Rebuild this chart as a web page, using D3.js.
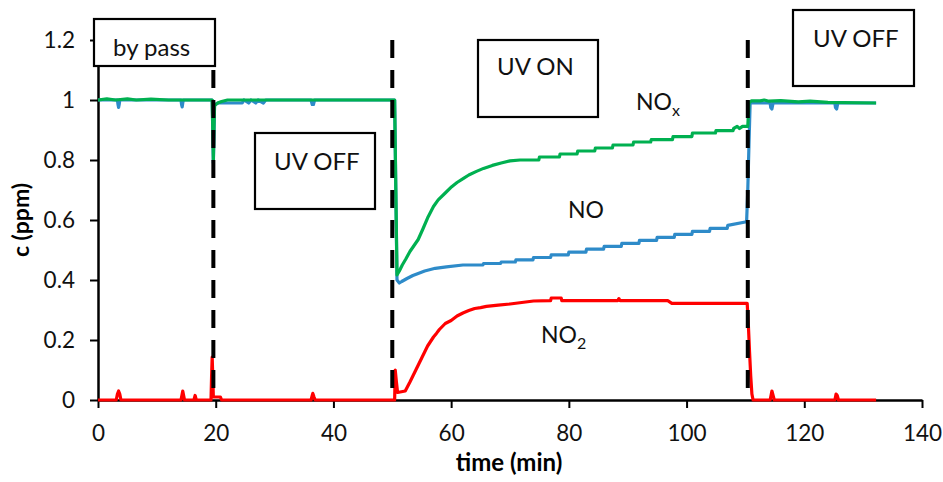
<!DOCTYPE html>
<html>
<head>
<meta charset="utf-8">
<script src="https://cdn.jsdelivr.net/npm/d3@7"></script>
<style>
  body { margin: 0; background: #fff; }
  svg { display: block; font-family: Lato, "Open Sans", sans-serif; }
</style>
</head>
<body>
<svg id="chart"></svg>
<script>
// values: [time (min), c (ppm)]
const xTicks = [0, 20, 40, 60, 80, 100, 120, 140];
const yTicks = [0, 0.2, 0.4, 0.6, 0.8, 1, 1.2];
const seriesNames = ['NO', 'NOx', 'NO2'];
const switchTimes = [19.6, 50, 110.4];
const phaseLabels = ['by pass', 'UV OFF', 'UV ON', 'UV OFF'];

const noSeries = [
  [0, 1.0], [3.3, 1.0], [3.4, 0.985], [3.5, 0.975], [3.6, 0.985], [3.7, 1.0],
  [14.1, 1.0], [14.2, 0.985], [14.3, 0.977], [14.4, 0.99], [14.5, 1.0],
  [19.4, 1.0], [19.5, 0.9], [19.6, 0.79], [19.7, 0.88], [19.8, 0.985], [20.5, 0.99],
  [24.5, 0.99], [24.8, 1.0], [25.6, 0.99], [26.0, 1.0], [26.8, 0.99], [27.2, 1.0],
  [28.1, 0.99], [28.5, 1.0], [36.2, 1.0], [36.4, 0.985], [36.6, 0.985], [36.8, 1.0],
  [50.4, 1.0], [50.6, 0.7], [50.8, 0.40], [51.2, 0.39], [51.6, 0.395], [52.5, 0.405],
  [53.5, 0.415], [54.4, 0.422], [55.5, 0.43], [57.3, 0.439], [59.2, 0.444], [62, 0.45],
  [65.4, 0.45], [65.5, 0.455], [68.4, 0.455], [68.5, 0.46], [70.9, 0.46], [71, 0.467],
  [73.9, 0.467], [74, 0.475], [76.9, 0.475], [77, 0.484], [79.9, 0.484], [80, 0.493],
  [82.9, 0.493], [83, 0.503], [85.9, 0.503], [86, 0.512], [88.9, 0.512], [89, 0.522],
  [91.9, 0.522], [92, 0.532], [94.9, 0.532], [95, 0.542], [97.9, 0.542], [98, 0.552],
  [100.9, 0.552], [101, 0.562], [103.9, 0.562], [104, 0.572], [106.9, 0.572], [107, 0.582],
  [110.2, 0.594], [110.4, 0.7], [110.6, 0.85], [110.8, 0.99], [112, 0.99],
  [114.2, 0.99], [114.3, 0.975], [114.5, 0.97], [114.7, 0.99], [125.2, 0.99],
  [125.3, 0.975], [125.5, 0.97], [125.7, 0.99], [132.2, 0.99]
];

const noxSeries = [
  [0, 1.0], [1.5, 1.004], [3, 1.0], [5, 1.004], [6.5, 1.0], [9, 1.003], [12, 1.0],
  [19.4, 1.0], [19.5, 0.9], [19.6, 0.8], [19.7, 0.9], [19.8, 0.98], [20.3, 0.99],
  [21, 0.995], [22, 1.0], [50.4, 1.0], [50.6, 0.7], [50.8, 0.417], [51.2, 0.43],
  [51.7, 0.45], [52.3, 0.47], [53, 0.495], [53.7, 0.515], [54.4, 0.535], [55.2, 0.57],
  [56.1, 0.611], [57, 0.645], [57.8, 0.667], [59, 0.69], [60.1, 0.711], [61, 0.725],
  [62.1, 0.739], [63, 0.75], [64.3, 0.762], [65.5, 0.772], [67, 0.782], [68.5, 0.79],
  [70, 0.797], [71.7, 0.80], [74.9, 0.80], [75, 0.81], [78.4, 0.81], [78.5, 0.82],
  [81.4, 0.82], [81.5, 0.83], [84.4, 0.83], [84.5, 0.84], [87.4, 0.84], [87.5, 0.85],
  [90.9, 0.85], [91, 0.86], [93.9, 0.86], [94, 0.868], [97.6, 0.868], [97.7, 0.878],
  [100.9, 0.878], [101, 0.89], [104.9, 0.89], [105, 0.898], [107.9, 0.898],
  [108, 0.905], [108.6, 0.912], [109, 0.905], [109.5, 0.912], [110.4, 0.912],
  [110.6, 0.99], [111, 0.997], [112.5, 0.997], [113.2, 1.0], [114, 0.996],
  [116, 0.998], [119, 0.994], [121, 0.996], [124, 0.992], [132.2, 0.99]
];

const no2Series = [
  [0, 0], [3.1, 0], [3.3, 0.02], [3.5, 0.03], [3.7, 0.02], [3.9, 0],
  [14.1, 0], [14.3, 0.02], [14.4, 0.03], [14.6, 0.01], [14.7, 0],
  [16.3, 0], [16.5, 0.015], [16.7, 0], [19.2, 0], [19.3, 0.08], [19.4, 0.143],
  [19.5, 0.08], [19.6, 0.01], [20.8, 0.01], [21, 0], [36.2, 0], [36.4, 0.015],
  [36.5, 0.022], [36.7, 0.01], [36.9, 0], [50.4, 0], [50.5, 0.1], [50.7, 0.06],
  [50.9, 0.025], [52.2, 0.03], [52.6, 0.045], [53, 0.06], [53.5, 0.08], [54, 0.1],
  [54.5, 0.12], [55, 0.14], [55.5, 0.16], [56, 0.18], [56.5, 0.195], [57, 0.21],
  [57.5, 0.222], [58, 0.235], [58.5, 0.245], [59, 0.255], [60, 0.265], [61, 0.28],
  [62, 0.29], [63, 0.298], [64, 0.305], [65, 0.308], [66, 0.312], [68, 0.316],
  [70, 0.32], [72, 0.325], [74, 0.33], [76.9, 0.331], [77, 0.34], [78.7, 0.34],
  [78.8, 0.331], [88.3, 0.331], [88.5, 0.338], [88.7, 0.331], [96.8, 0.331],
  [97.5, 0.322], [110.3, 0.322], [110.5, 0.25], [110.7, 0.16], [110.9, 0.08],
  [111.1, 0.02], [111.3, 0], [114.2, 0], [114.4, 0.02], [114.5, 0.03], [114.7, 0.015],
  [114.9, 0], [125.2, 0], [125.4, 0.02], [125.6, 0.015], [125.8, 0], [132.2, 0]
];

class TimeSeries {

    constructor(_config, series) {
        this.config = {
            parentElement: _config.parentElement,
            width: _config.width || 943,
            height: _config.height || 482,
            margin: {top: 40, right: 21, bottom: 82, left: 98}
        };
        this.series = series;
        this.initVis();
    }

    initVis() {
        let vis = this;
        const m = vis.config.margin;

        vis.innerWidth = vis.config.width - m.left - m.right;
        vis.innerHeight = vis.config.height - m.top - m.bottom;

        vis.svg = d3.select(vis.config.parentElement)
            .attr('width', vis.config.width)
            .attr('height', vis.config.height);

        vis.chart = vis.svg.append('g')
            .attr('transform', `translate(${m.left},${m.top})`);

        vis.xScale = d3.scaleLinear().domain([0, 140]).range([0, vis.innerWidth]);
        vis.yScale = d3.scaleLinear().domain([0, 1.2]).range([vis.innerHeight, 0]);

        vis.line = d3.line()
            .x(d => vis.xScale(d[0]))
            .y(d => vis.yScale(d[1]));
    }

    render() {
        let vis = this;

        // axes
        const xAxis = d3.axisBottom(vis.xScale)
            .tickValues(xTicks).tickSize(8).tickSizeOuter(0).tickPadding(17);
        const yAxis = d3.axisLeft(vis.yScale)
            .tickValues(yTicks).tickSize(8).tickSizeOuter(0).tickPadding(15)
            .tickFormat(d3.format('~g'));

        const gx = vis.chart.append('g')
            .attr('transform', `translate(0,${vis.innerHeight})`)
            .call(xAxis);
        const gy = vis.chart.append('g').call(yAxis);

        [gx, gy].forEach(g => {
            g.select('.domain').attr('stroke', '#000').attr('stroke-width', 2.5);
            g.selectAll('.tick line').attr('stroke', '#000').attr('stroke-width', 2);
            g.selectAll('.tick text')
                .attr('fill', '#111')
                .style('font-family', 'Lato, sans-serif')
                .style('font-size', '22.5px');
        });

        vis.svg.append('text')
            .attr('x', 509).attr('y', 471)
            .attr('text-anchor', 'middle')
            .style('font-weight', 'bold').style('font-size', '24px')
            .text('time (min)');

        vis.svg.append('text')
            .attr('transform', 'translate(29,220) rotate(-90)')
            .attr('text-anchor', 'middle')
            .style('font-weight', 'bold').style('font-size', '23px')
            .text('c (ppm)');

        // series, green drawn over blue
        vis.chart.selectAll('.series')
            .data(vis.series)
            .join('path').attr('class', 'series')
                .attr('d', d => vis.line(d.values))
                .attr('fill', 'none')
                .attr('stroke', d => d.color)
                .attr('stroke-width', 3.2)
                .attr('stroke-linejoin', 'round');

        // switching times
        vis.chart.selectAll('.switch')
            .data(switchTimes)
            .join('line').attr('class', 'switch')
                .attr('x1', d => vis.xScale(d)).attr('x2', d => vis.xScale(d))
                .attr('y1', vis.yScale(1.2)).attr('y2', vis.yScale(0))
                .attr('stroke', '#000')
                .attr('stroke-width', 4)
                .attr('stroke-dasharray', '18,12');

        // phase boxes (pixel placement)
        const boxes = [
            {x: 94, y: 19, w: 121, h: 47, tx: 113, ty: 56},
            {x: 255, y: 133, w: 120, h: 76, tx: 274, ty: 170},
            {x: 478, y: 40, w: 120, h: 77, tx: 497, ty: 75},
            {x: 793, y: 10, w: 121, h: 76, tx: 813, ty: 47}
        ];
        const gb = vis.svg.selectAll('.phase')
            .data(boxes)
            .join('g').attr('class', 'phase');
        gb.append('rect')
            .attr('x', d => d.x).attr('y', d => d.y)
            .attr('width', d => d.w).attr('height', d => d.h)
            .attr('fill', '#fff')
            .attr('stroke', '#000')
            .attr('stroke-width', 2.2);
        gb.append('text')
            .attr('x', d => d.tx).attr('y', d => d.ty)
            .style('font-size', '24px')
            .attr('fill', '#111')
            .text((d, i) => phaseLabels[i]);

        // curve labels
        const labels = [
            {name: 'NOx', x: 636, y: 110},
            {name: 'NO', x: 568, y: 218},
            {name: 'NO2', x: 541, y: 343}
        ];
        labels.forEach(l => {
            const t = vis.svg.append('text')
                .attr('x', l.x).attr('y', l.y)
                .style('font-size', '23px')
                .attr('fill', '#111');
            t.append('tspan').text('NO');
            if (l.name.length > 2) {
                t.append('tspan')
                    .attr('dy', 6)
                    .style('font-size', '16px')
                    .text(l.name.slice(2));
            }
        });
    }
}

const chart = new TimeSeries({parentElement: '#chart', width: 943, height: 482}, [
    {name: seriesNames[0], color: '#2E8BC9', values: noSeries},
    {name: seriesNames[1], color: '#00B050', values: noxSeries},
    {name: seriesNames[2], color: '#FF0000', values: no2Series}
]);
chart.render();
</script>
</body>
</html>
